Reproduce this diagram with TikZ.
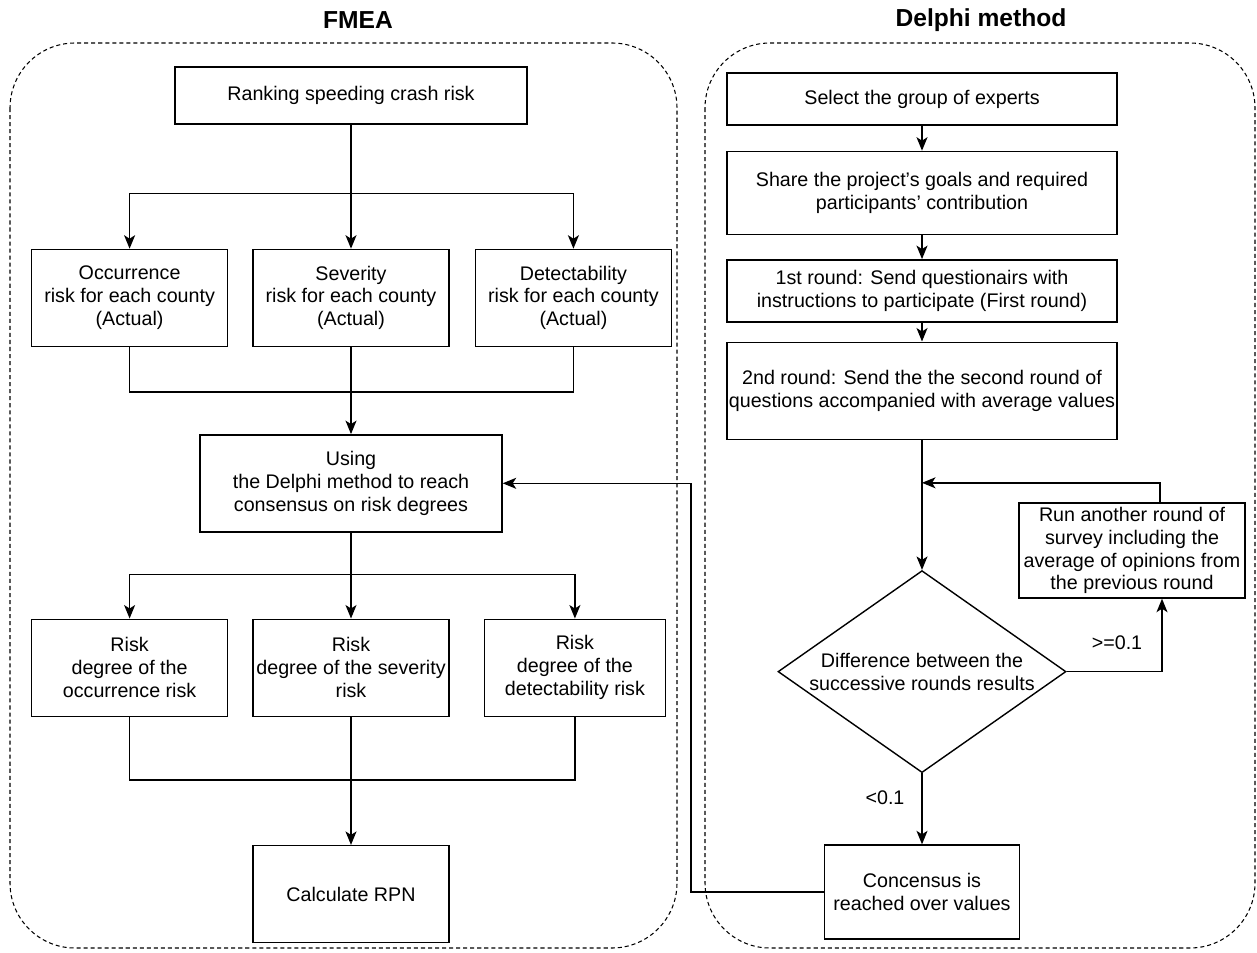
\documentclass[tikz,border=0pt]{standalone}
\usepackage{fontspec}
\setmainfont{Liberation Sans}
\usetikzlibrary{positioning, arrows.meta, shapes.geometric, calc}

\begin{document}
\begin{tikzpicture}[
    font=\fontsize{11.2}{13}\selectfont,
    box/.style={draw, thick, rectangle, minimum width=3.92cm, minimum height=1.94cm, inner sep=1pt, align=center},
    decision/.style={draw, thick, diamond, aspect=1.43, minimum width=5.76cm, minimum height=4.04cm, inner sep=0pt, align=center},
    group/.style={draw, line width=0.6pt, dash pattern=on 2.3pt off 1.7pt, rounded corners=1.3cm},
    title/.style={font=\fontsize{14}{16}\selectfont\bfseries},
    arr/.style={-{Stealth[length=2.7mm, width=2.2mm, inset=0.7mm]}, thick}
]
    \useasboundingbox (0,0) rectangle (25.14,-19.06);

    % dashed frames and titles
    \draw[group] (0.2,-0.86) rectangle (13.54,-18.96);
    \draw[group] (14.1,-0.86) rectangle (25.1,-18.96);
    \node[title] (fmeatitle) at (7.16,-0.4) {FMEA};
    \node[title] (delphititle) at (19.62,-0.4) {Delphi method};

    % FMEA side
    \node[box, minimum width=7.04cm, minimum height=1.14cm] (rank) at (7.02,-1.91) {Ranking speeding crash risk};
    \node[box] (sev) [below=2.48cm of rank] {Severity\\risk for each county\\(Actual)};
    \node[box] (occ) [left=0.48cm of sev] {Occurrence\\risk for each county\\(Actual)};
    \node[box] (det) [right=0.5cm of sev] {Detectability\\risk for each county\\(Actual)};
    \node[box, minimum width=6.04cm] (using) [below=1.74cm of sev] {Using\\the Delphi method to reach\\consensus on risk degrees};
    \node[box] (rsev) [below=1.72cm of using] {Risk\\degree of the severity\\risk};
    \node[box] (rocc) [left=0.48cm of rsev] {Risk\\degree of the\\occurrence risk};
    \node[box, minimum width=3.62cm] (rdet) [right=0.68cm of rsev] {Risk\\degree of the\\detectability risk};
    \node[box] (rpn) [below=2.56cm of rsev] {Calculate RPN};

    \coordinate (split1) at ([yshift=-1.38cm]rank.south);
    \coordinate (join1) at ([yshift=-0.9cm]sev.south);
    \coordinate (split2) at ([yshift=-0.84cm]using.south);
    \coordinate (join2) at ([yshift=-1.26cm]rsev.south);

    \draw[arr] (rank.south) -- (sev.north);
    \draw[arr] (split1) -| (occ.north);
    \draw[arr] (split1) -| (det.north);
    \draw[thick] (occ.south) |- (join1) -| (det.south);
    \draw[arr] (sev.south) -- (using.north);
    \draw[arr] (using.south) -- (rsev.north);
    \draw[arr] (split2) -| (rocc.north);
    \draw[arr] (split2) -| (rdet.north);
    \draw[thick] (rocc.south) |- (join2) -| (rdet.south);
    \draw[arr] (rsev.south) -- (rpn.north);

    % Delphi side
    \node[box, minimum width=7.8cm, minimum height=1.04cm] (sel) at (18.44,-1.98) {Select the group of experts};
    \node[box, minimum width=7.8cm, minimum height=1.66cm] (share) [below=0.5cm of sel] {Share the project's goals and required\\participants' contribution};
    \node[box, minimum width=7.8cm, minimum height=1.24cm] (r1) [below=0.48cm of share] {1st round: Send questionairs with\\instructions to participate (First round)};
    \node[box, minimum width=7.8cm] (r2) [below=0.38cm of r1] {2nd round: Send the the second round of\\questions accompanied with average values};
    \node[decision] (dia) [below=2.6cm of r2] {Difference between the\\successive rounds results};
    \node[box, minimum width=3.9cm, minimum height=1.88cm] (cons) [below=1.42cm of dia] {Concensus is\\reached over values};
    \node[box, minimum width=4.52cm, minimum height=1.9cm] (run) at (22.64,-11.01) {Run another round of\\survey including the\\average of opinions from\\the previous round};

    \coordinate (loopin) at ($(r2.south)!0.33!(dia.north)$);

    \draw[arr] (sel) -- (share);
    \draw[arr] (share) -- (r1);
    \draw[arr] (r1) -- (r2);
    \draw[arr] (r2) -- (dia);
    \draw[arr] (dia) -- node[pos=0.34, xshift=-0.74cm] {<0.1} (cons);
    \draw[arr] (dia.east) -| node[pos=0.5, xshift=-0.9cm, yshift=0.58cm] {>=0.1} ([xshift=0.6cm]run.south);
    \draw[arr] ([xshift=0.56cm]run.north) |- (loopin);
    \draw[arr] (cons.west) -- ++(-2.66,0) |- (using.east);
\end{tikzpicture}
\end{document}
